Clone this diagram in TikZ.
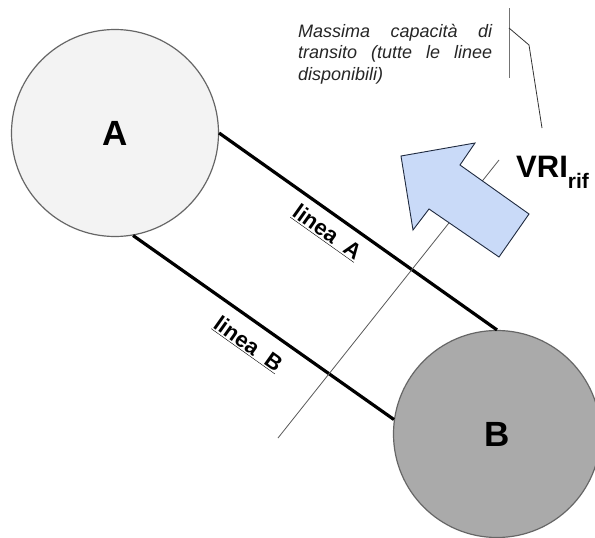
\documentclass[tikz,border=0pt]{standalone}
\usepackage{fontspec}
\setmainfont{Liberation Sans}
\definecolor{nodeA}{HTML}{F3F3F3}
\definecolor{nodeB}{HTML}{AAAAAA}
\definecolor{ringgray}{HTML}{666666}
\definecolor{arrowblue}{HTML}{C9DAF8}
\definecolor{arrowedge}{HTML}{1F2A3F}
\begin{document}
\begin{tikzpicture}[x=1pt,y=-1pt,
  station/.style={circle, inner sep=0pt, minimum size=207pt, draw=ringgray, line width=1.2pt,
     font=\fontsize{35}{35}\selectfont\bfseries},
  linea/.style={line width=3.2pt, black},
  linelabel/.style={inner sep=0pt, anchor=base, rotate=-35.4, font=\fontsize{22}{22}\selectfont\bfseries},
  captline/.style={inner sep=0pt, anchor=base west, text=black!85, font=\fontsize{18}{21.5}\selectfont\itshape},
  thinline/.style={line width=0.8pt, black!65},
]
\useasboundingbox (0,0) rectangle (595,538);
\fill[white] (0,0) rectangle (595,538);

% stations
\node[station, fill=nodeA] (A) at (115,133) {A};
\node[station, fill=nodeB] (B) at (497,434) {B};

% lines
\draw[linea] (A.east) -- (B.north);
\draw[linea] (A.-80) -- (B.172);

% labels
\node[linelabel] (labA) at (323,238.5) {\underline{linea\ \ A}};
\node[linelabel] (labB) at (244,350) {\underline{linea\ \ B}};

% section line
\coordinate (s1) at (278,438);
\coordinate (s2) at (499,160);
\draw[thinline] (s1) -- (s2);

% arrow
\filldraw[fill=arrowblue, draw=arrowedge, line width=0.9pt, line join=miter]
  (401,156) -- (475,143) -- (460,165) -- (529,214) -- (499,257) -- (429,209) -- (413,230) -- cycle;

% VRI label
\node[inner sep=0pt, anchor=base west, font=\fontsize{31}{31}\selectfont\bfseries] (vri) at (516,177)
  {VRI\raisebox{-11pt}{\fontsize{21}{21}\selectfont rif}};

% caption
\node[captline] (c1) at (298,37) {\hbox to 194pt{Massima\hfill capacità\hfill di}};
\node[captline] (c2) at (298,58.5) {\hbox to 194pt{transito\hfill (tutte\hfill le\hfill linee}};
\node[captline] (c3) at (298,80) {disponibili)};

% bracket
\coordinate (b1) at (509,8);
\coordinate (b2) at (509,78);
\coordinate (k0) at (509,28);
\coordinate (k1) at (529,45);
\coordinate (k2) at (542,128);
\draw[line width=1pt, black!55] (b1) -- (b2);
\draw[line width=0.8pt, black!80] (k0) -- (k1) -- (k2);
\end{tikzpicture}
\end{document}
